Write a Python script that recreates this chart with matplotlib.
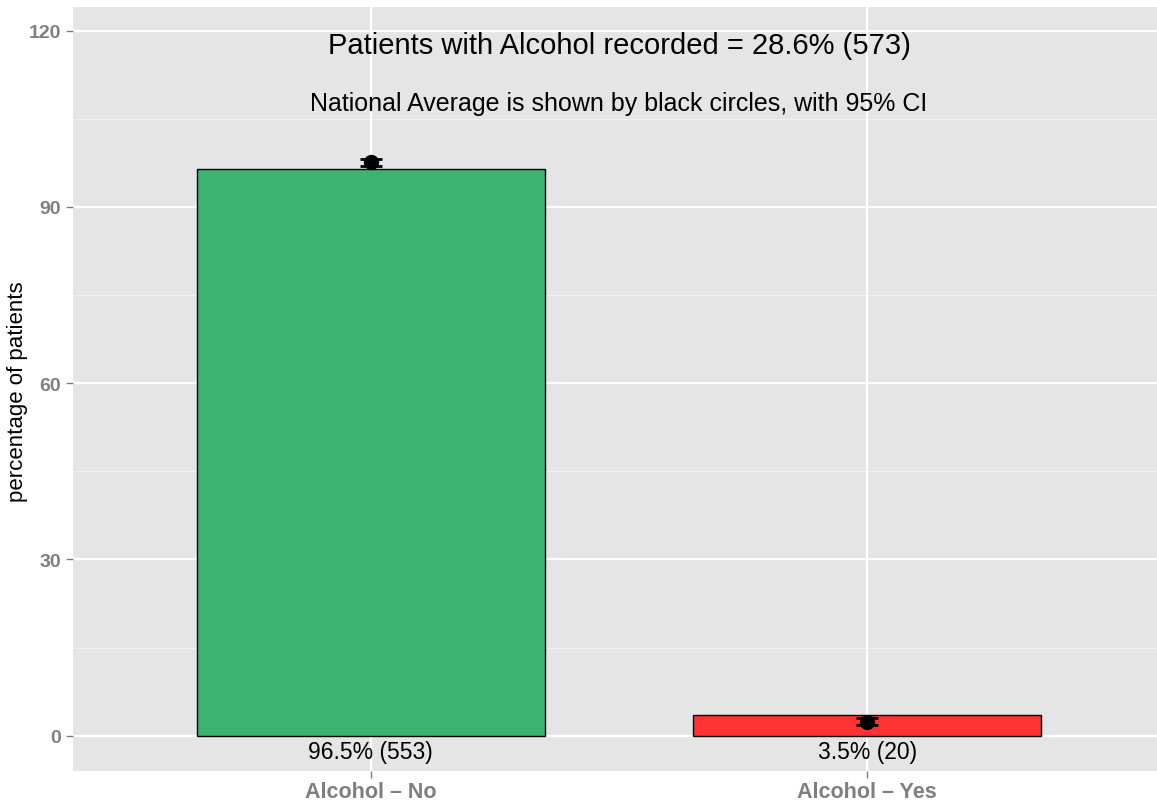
import numpy as np
import matplotlib.pyplot as plt

# data
categories = ['Alcohol – No', 'Alcohol – Yes']
pct = [96.5, 3.5]
counts = [553, 20]
nat_avg = [97.6, 2.4]
ci_low = [97.0, 1.8]
ci_high = [98.2, 3.0]
bar_colors = ['#3CB371', '#FF3333']
title = 'Patients with Alcohol recorded = 28.6% (573)'
subtitle = 'National Average is shown by black circles, with 95% CI'

fig = plt.figure(figsize=(11.57, 8.04), dpi=100)
ax = fig.add_axes([73 / 1157, 32 / 804, (1165 - 73) / 1157, (772 - 8) / 804])
ax.set_facecolor('#E5E5E5')

x = np.arange(1, len(categories) + 1)

# grid
for v in [15, 45, 75, 105]:
    ax.axhline(v, color='#F2F2F2', lw=0.8, zorder=0)
for v in [0, 30, 60, 90, 120]:
    ax.axhline(v, color='white', lw=1.6, zorder=0)
for xv in x:
    ax.axvline(xv, color='white', lw=1.6, zorder=0)

ax.bar(x, pct, width=0.7, color=bar_colors, edgecolor='black', linewidth=1, zorder=2)

yerr = [np.array(nat_avg) - np.array(ci_low), np.array(ci_high) - np.array(nat_avg)]
ax.errorbar(x, nat_avg, yerr=yerr, fmt='o', color='black', ms=10,
            capsize=8, capthick=2, elinewidth=2, zorder=3)

for xi, p, n in zip(x, pct, counts):
    ax.text(xi, -2.6, f'{p}% ({n})', ha='center', va='center', fontsize=16.5,
            family='Liberation Sans', zorder=4)

ax.text(1.5, 117.6, title, ha='center', va='center', fontsize=21, family='Liberation Sans')
ax.text(1.5, 107.6, subtitle, ha='center', va='center', fontsize=18, family='Liberation Sans')

ax.set_xlim(0.4, 2.6)
ax.set_ylim(-6, 124)
ax.set_xticks(x)
ax.set_xticklabels(categories)
ax.set_yticks([0, 30, 60, 90, 120])
for lab in ax.get_xticklabels():
    lab.set_fontsize(15.5)
for lab in ax.get_yticklabels():
    lab.set_fontsize(14)
for lab in ax.get_xticklabels() + ax.get_yticklabels():
    lab.set_fontweight('bold')
    lab.set_color('#7F7F7F')
    lab.set_family('Liberation Sans')
ax.tick_params(axis='both', color='#7F7F7F', length=5, width=1)
ax.tick_params(axis='x', pad=2)
for s in ax.spines.values():
    s.set_visible(False)

fig.text(18 / 1157, 1 - 392 / 804, 'percentage of patients', rotation=90,
         ha='center', va='center', fontsize=16, family='Liberation Sans')

fig.savefig('out.png', dpi=100)
